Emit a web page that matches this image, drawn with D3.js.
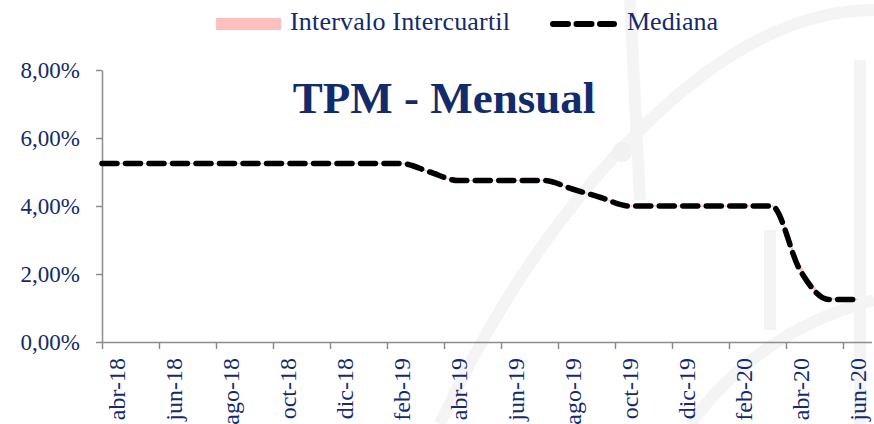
<!DOCTYPE html>
<html>

<head>
  <meta charset="utf-8">
  <title>TPM - Mensual</title>
  <script src="https://cdn.jsdelivr.net/npm/d3@7/dist/d3.min.js"></script>
  <style>
    body { margin: 0; background: #fff; }
    text { font-family: "Liberation Serif", "DejaVu Serif", serif; fill: #132a6b; }
    .axis path, .axis line { stroke: #8c8c8c; stroke-width: 1.5px; }
  </style>
</head>

<body>
  <svg id="chart" width="874" height="424"></svg>

  <script>
    // months from abr-18 to jun-20 (one value per month, survey median)
    var months = ['2018-04', '2018-05', '2018-06', '2018-07', '2018-08', '2018-09', '2018-10', '2018-11', '2018-12',
      '2019-01', '2019-02', '2019-03', '2019-04', '2019-05', '2019-06', '2019-07', '2019-08', '2019-09', '2019-10',
      '2019-11', '2019-12', '2020-01', '2020-02', '2020-03', '2020-04', '2020-05', '2020-06'];
    var mediana = [5.25, 5.25, 5.25, 5.25, 5.25, 5.25, 5.25, 5.25, 5.25, 5.25, 5.25, 5.0, 4.75, 4.75, 4.75, 4.75,
      4.5, 4.25, 4.0, 4.0, 4.0, 4.0, 4.0, 4.0, 2.1, 1.25, 1.25];
    // interquartile range is almost zero, only visible around abr-20
    var q1 = [5.25, 5.25, 5.25, 5.25, 5.25, 5.25, 5.25, 5.25, 5.25, 5.25, 5.25, 5.0, 4.75, 4.75, 4.75, 4.75,
      4.5, 4.25, 4.0, 4.0, 4.0, 4.0, 4.0, 4.0, 2.1, 1.25, 1.25];
    var q3 = [5.25, 5.25, 5.25, 5.25, 5.25, 5.25, 5.25, 5.25, 5.25, 5.25, 5.25, 5.0, 4.75, 4.75, 4.75, 4.75,
      4.5, 4.25, 4.0, 4.0, 4.0, 4.0, 4.0, 4.0, 2.25, 1.3, 1.25];
    var yTicks = [0, 2, 4, 6, 8];
    var mesNombres = ['ene', 'feb', 'mar', 'abr', 'may', 'jun', 'jul', 'ago', 'sep', 'oct', 'nov', 'dic'];

    var svg = d3.select('#chart');

    // very faint watermark in the background (decorative)
    var wm = svg.append('g')
      .attr('fill', 'none')
      .attr('stroke', '#f3f4f3')
      .attr('stroke-width', 12);
    wm.append('path').attr('d', 'M440,424 Q520,250 640,130 T874,10');
    wm.append('path').attr('d', 'M630,0 L640,200');
    wm.append('path').attr('d', 'M770,230 L770,330');
    wm.append('path').attr('d', 'M690,424 Q760,330 874,300');
    wm.append('path').attr('d', 'M860,60 L860,424');
    wm.append('circle').attr('cx', 622).attr('cy', 152).attr('r', 10).attr('fill', '#f1f1f1').attr('stroke', 'none');

    var x = d3.scaleLinear()  // month boundaries
      .domain([0, months.length])
      .range([102, 871.5]);
    var half = (x(1) - x(0)) / 2;

    var y = d3.scaleLinear()
      .domain([0, 8])
      .range([342, 70]);

    var fmt = d => d3.format('.2f')(d).replace('.', ',') + '%';
    var mesLabel = i => {
      var p = months[i].split('-');
      return mesNombres[+p[1] - 1] + '-' + p[0].slice(2);
    };

    // y axis
    var yAxis = svg.append('g')
      .attr('class', 'axis')
      .attr('transform', 'translate(' + x(0) + ',0)')
      .call(d3.axisLeft(y).tickValues(yTicks).tickSize(6).tickSizeOuter(0).tickPadding(16).tickFormat(fmt));
    yAxis.selectAll('text')
      .attr('font-size', '23px')
      .attr('fill', '#132a6b');

    // x axis, label every 2 months centered on the month
    var xAxis = svg.append('g')
      .attr('class', 'axis')
      .attr('transform', 'translate(0,' + y(0) + ')')
      .call(d3.axisBottom(x)
        .tickValues(d3.range(0, months.length, 2))
        .tickSize(7)
        .tickSizeOuter(0)
        .tickFormat(mesLabel));
    xAxis.selectAll('text')
      .attr('font-size', '24px')
      .attr('fill', '#132a6b')
      .attr('text-anchor', 'end')
      .attr('transform', 'rotate(-90)')
      .attr('x', -16)
      .attr('y', half)
      .attr('dy', '0.35em');
    yAxis.selectAll('text').attr('font-family', '"Liberation Serif", serif');
    xAxis.selectAll('text').attr('font-family', '"Liberation Serif", serif');

    // points at mid-month, line starts at the axis
    var pts = mediana.map((v, i) => ({ t: i + 0.5, v: v, lo: q1[i], hi: q3[i] }));
    pts.unshift({ t: 0, v: mediana[0], lo: q1[0], hi: q3[0] });

    svg.append('path')
      .datum(pts)
      .attr('fill', '#ffc0c0')
      .attr('stroke', '#ffc0c0')
      .attr('stroke-width', 1)
      .attr('d', d3.area().curve(d3.curveMonotoneX)
        .x(d => x(d.t)).y0(d => y(d.lo)).y1(d => y(d.hi)));

    svg.append('path')
      .datum(pts)
      .attr('fill', 'none')
      .attr('stroke', '#000')
      .attr('stroke-width', 5.5)
      .attr('stroke-linecap', 'round')
      .attr('stroke-dasharray', '15,8.5')
      .attr('d', d3.line().curve(d3.curveMonotoneX).x(d => x(d.t)).y(d => y(d.v)));

    // title
    svg.append('text')
      .attr('x', 444)
      .attr('y', 113)
      .attr('text-anchor', 'middle')
      .attr('font-size', '45px')
      .attr('font-weight', 'bold')
      .text('TPM - Mensual');

    // legend
    var legend = svg.append('g');
    legend.append('rect')
      .attr('x', 216).attr('y', 18).attr('width', 65).attr('height', 12)
      .attr('fill', '#ffc0c0');
    legend.append('text')
      .attr('x', 290).attr('y', 30)
      .attr('font-size', '26px')
      .attr('textLength', 220)
      .text('Intervalo Intercuartil');
    legend.append('line')
      .attr('x1', 553).attr('x2', 614).attr('y1', 24).attr('y2', 24)
      .attr('stroke', '#000')
      .attr('stroke-width', 6)
      .attr('stroke-linecap', 'round')
      .attr('stroke-dasharray', '15,8.5');
    legend.append('text')
      .attr('x', 627).attr('y', 30)
      .attr('font-size', '26px')
      .text('Mediana');
  </script>
</body>

</html>
